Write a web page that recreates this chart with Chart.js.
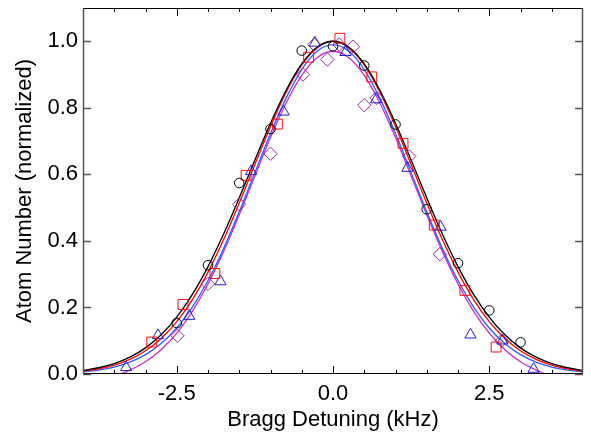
<!DOCTYPE html>
<html>
<head>
<meta charset="utf-8">
<script src="https://cdn.jsdelivr.net/npm/chart.js@4"></script>
<style>
  html, body { margin: 0; padding: 0; background: #fff; }
  canvas { display: block; }
</style>
</head>
<body>
<canvas id="c" width="591" height="435"></canvas>
<script>
// measured points (kHz, normalized atom number)
let blackX = [-2.5, -2.0, -1.5, -1.0, -0.5, 0.0, 0.5, 1.0, 1.5, 2.0, 2.5, 3.0];
let blackY = [0.153, 0.327, 0.574, 0.736, 0.972, 0.985, 0.927, 0.750, 0.495, 0.333, 0.191, 0.095];

let redX = [-2.9, -2.4, -1.89, -1.39, -0.89, -0.39, 0.11, 0.62, 1.12, 1.62, 2.11, 2.61];
let redY = [0.096, 0.209, 0.302, 0.597, 0.751, 0.952, 1.009, 0.893, 0.693, 0.448, 0.251, 0.081];

let blueX = [-3.31, -2.80, -2.30, -1.80, -1.31, -0.79, -0.29, 0.20, 0.69, 1.19, 1.72, 2.20, 2.71, 3.21];
let blueY = [0.020, 0.116, 0.174, 0.278, 0.609, 0.788, 0.995, 0.967, 0.825, 0.619, 0.442, 0.118, 0.100, 0.015];

let magX = [-2.49, -2.0, -1.5, -1.0, -0.48, -0.3, -0.09, 0.1, 0.32, 0.5, 0.7, 1.22, 1.71, 2.7];
let magY = [0.115, 0.271, 0.51, 0.662, 0.900, 0.99, 0.945, 0.99, 0.984, 0.808, 0.83, 0.654, 0.36, 0.10];

// fit curves
let fitX = [-4, -3.75, -3.5, -3.25, -3, -2.75, -2.5, -2.25, -2, -1.75, -1.5, -1.25, -1, -0.75, -0.5, -0.25,
	0, 0.25, 0.5, 0.75, 1, 1.25, 1.5, 1.75, 2, 2.25, 2.5, 2.75, 3, 3.25, 3.5, 3.75, 4];
let fitBlack = [0.0109, 0.0188, 0.0313, 0.0505, 0.0786, 0.1179, 0.1709, 0.2391, 0.3228, 0.4208, 0.5294, 0.6430, 0.7538, 0.8530, 0.9318, 0.9825,
	1.0000, 0.9825, 0.9318, 0.8530, 0.7538, 0.6430, 0.5294, 0.4208, 0.3228, 0.2391, 0.1709, 0.1179, 0.0786, 0.0505, 0.0313, 0.0188, 0.0109];
let fitRed = [0.0088, 0.0156, 0.0267, 0.0439, 0.0698, 0.1067, 0.1574, 0.2236, 0.3063, 0.4041, 0.5140, 0.6299, 0.7439, 0.8467, 0.9287, 0.9817,
	1.0000, 0.9817, 0.9287, 0.8467, 0.7439, 0.6299, 0.5140, 0.4041, 0.3063, 0.2236, 0.1574, 0.1067, 0.0698, 0.0439, 0.0267, 0.0156, 0.0088];
let fitBlue = [0.0064, 0.0118, 0.0209, 0.0355, 0.0581, 0.0915, 0.1383, 0.2010, 0.2809, 0.3774, 0.4874, 0.6052, 0.7225, 0.8292, 0.9151, 0.9707,
	0.9900, 0.9707, 0.9151, 0.8292, 0.7225, 0.6052, 0.4874, 0.3774, 0.2809, 0.2010, 0.1383, 0.0915, 0.0581, 0.0355, 0.0209, 0.0118, 0.0064];
let fitMagX = [-3.4, -3.25, -3, -2.75, -2.5, -2.25, -2, -1.75, -1.5, -1.25, -1, -0.75, -0.5, -0.25,
	0, 0.25, 0.5, 0.75, 1, 1.25, 1.5, 1.75, 2, 2.25, 2.5, 2.75, 3, 3.25, 3.4];
let fitMag = [0.0, 0.0118, 0.0369, 0.0731, 0.1229, 0.1885, 0.2706, 0.3685, 0.4786, 0.5953, 0.7105, 0.8145, 0.8976, 0.9514,
	0.9700, 0.9514, 0.8976, 0.8145, 0.7105, 0.5953, 0.4786, 0.3685, 0.2706, 0.1885, 0.1229, 0.0731, 0.0369, 0.0118, 0.0];

let xTickVals = [-2.5, 0, 2.5];
let xMinorVals = [-3.5, -3, -2, -1.5, -1, -0.5, 0.5, 1, 1.5, 2, 3, 3.5];
let yTickVals = [0, 0.2, 0.4, 0.6, 0.8, 1.0];

const FONT = "'Liberation Sans', Arial, sans-serif";

function pts(xs, ys) {
	return xs.map((x, i) => ({x: x, y: ys[i]}));
}

function fitSet(xs, ys, col) {
	return {
		type: 'line', data: pts(xs, ys), borderColor: col, borderWidth: 1.3,
		pointRadius: 0, fill: false, cubicInterpolationMode: 'monotone', order: 2
	};
}

function markSet(xs, ys, col, style, r) {
	return {
		type: 'scatter', data: pts(xs, ys), borderColor: col, backgroundColor: 'rgba(0,0,0,0)',
		pointStyle: style, pointRadius: r, pointBorderWidth: 1, showLine: false, order: 1
	};
}

// frame with inward ticks on all four sides
const frame = {
	id: 'frame',
	afterDatasetsDraw(chart) {
		let ctx = chart.ctx;
		let a = chart.chartArea;
		let xs = chart.scales.x, ys = chart.scales.y;
		ctx.save();
		ctx.lineWidth = 1;
		ctx.strokeStyle = '#000';
		ctx.beginPath();
		ctx.moveTo(a.left, a.top + 0.5); ctx.lineTo(a.right, a.top + 0.5);
		ctx.moveTo(a.left, a.bottom - 0.5); ctx.lineTo(a.right, a.bottom - 0.5);
		xTickVals.forEach(v => {
			let p = Math.round(xs.getPixelForValue(v)) + 0.5;
			ctx.moveTo(p, a.bottom); ctx.lineTo(p, a.bottom - 8);
			ctx.moveTo(p, a.top); ctx.lineTo(p, a.top + 8);
		});
		xMinorVals.forEach(v => {
			let p = Math.round(xs.getPixelForValue(v)) + 0.5;
			ctx.moveTo(p, a.bottom); ctx.lineTo(p, a.bottom - 4);
			ctx.moveTo(p, a.top); ctx.lineTo(p, a.top + 4);
		});
		ctx.stroke();

		ctx.strokeStyle = '#555';
		ctx.lineWidth = 1.5;
		ctx.beginPath();
		ctx.moveTo(a.left + 0.5, a.top); ctx.lineTo(a.left + 0.5, a.bottom);
		ctx.moveTo(a.right - 0.5, a.top); ctx.lineTo(a.right - 0.5, a.bottom);
		yTickVals.forEach(v => {
			let p = Math.round(ys.getPixelForValue(v)) + 0.5;
			ctx.moveTo(a.left, p); ctx.lineTo(a.left + 8, p);
			ctx.moveTo(a.right, p); ctx.lineTo(a.right - 8, p);
		});
		ctx.stroke();
		ctx.restore();
	}
};

new Chart(document.getElementById('c'), {
	data: {
		datasets: [
			fitSet(fitX, fitBlack, '#000000'),
			fitSet(fitX, fitRed, '#ff0000'),
			fitSet(fitX, fitBlue, '#2f5cff'),
			fitSet(fitMagX, fitMag, '#cc2ccc'),
			markSet(blackX, blackY, '#000000', 'circle', 4.8),
			markSet(redX, redY, '#ff1010', 'rect', 7),
			markSet(blueX, blueY, '#2020d0', 'triangle', 6.5),
			markSet(magX, magY, '#9a2a9a', 'rectRot', 6.7)
		]
	},
	options: {
		responsive: false,
		animation: false,
		devicePixelRatio: 1,
		layout: {padding: {left: 12, top: 2, right: 2, bottom: 0}},
		plugins: {legend: {display: false}, tooltip: {enabled: false}},
		scales: {
			x: {
				type: 'linear', min: -4, max: 4,
				afterBuildTicks: s => { s.ticks = xTickVals.map(v => ({value: v})); },
				afterFit: s => { s.height = 61; s.paddingLeft = 0; s.paddingRight = 0; },
				grid: {display: false, drawTicks: false},
				border: {display: false},
				ticks: {
					color: '#000', padding: 7, font: {family: FONT, size: 22},
					callback: v => v.toFixed(1)
				},
				title: {
					display: true, text: 'Bragg Detuning (kHz)', color: '#000',
					font: {family: FONT, size: 22}, padding: {top: 0, bottom: 2}
				}
			},
			y: {
				type: 'linear', min: 0, max: 1.1,
				afterBuildTicks: s => { s.ticks = yTickVals.map(v => ({value: v})); },
				afterFit: s => { s.width = 71; s.paddingTop = 0; s.paddingBottom = 0; },
				grid: {display: false, drawTicks: false},
				border: {display: false},
				ticks: {
					color: '#000', padding: 5, font: {family: FONT, size: 22},
					callback: v => v.toFixed(1)
				},
				title: {
					display: true, text: 'Atom Number (normalized)', color: '#000',
					font: {family: FONT, size: 22}, padding: {top: 0, bottom: 0}
				}
			}
		}
	},
	plugins: [frame]
});
</script>
</body>
</html>
